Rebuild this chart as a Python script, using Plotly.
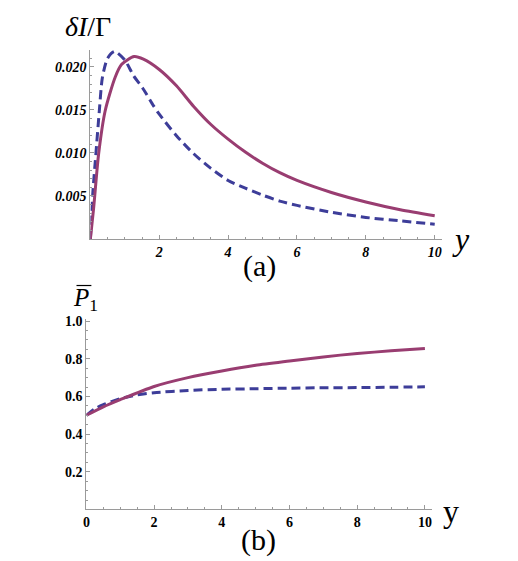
import plotly.graph_objects as go

# --- DATA ---
# (a) delta I / Gamma vs y
a_dash_y = [0, 0.07, 0.16, 0.26, 0.35, 0.5, 0.7, 1.0, 1.25, 1.54, 1.83, 2, 2.5, 3, 3.5,
            4, 4.5, 5, 5.5, 6, 7, 8, 9, 10]
a_dash_v = [0, 0.0053, 0.0099, 0.0149, 0.0188, 0.0210, 0.0218, 0.0208, 0.0190, 0.0174,
            0.0155, 0.0145, 0.0120, 0.0099, 0.0082, 0.0068, 0.0059, 0.0051, 0.0044,
            0.0039, 0.0031, 0.0025, 0.0021, 0.0017]
a_solid_y = [0, 0.09, 0.24, 0.43, 0.72, 0.91, 1.27, 1.54, 2, 2.5, 3, 3.5, 4, 4.5, 5, 5.5,
             6, 7, 8, 9, 10]
a_solid_v = [0, 0.0034, 0.0099, 0.0149, 0.0188, 0.0203, 0.0212, 0.0209, 0.0197, 0.0178,
             0.0154, 0.0133, 0.0116, 0.0101, 0.0088, 0.0077, 0.0068, 0.0054, 0.0043,
             0.0034, 0.0027]

# (b) P1 bar vs y
b_dash_y = [0, 0.25, 0.5, 1, 1.5, 2, 3, 4, 5, 6, 7, 8, 9, 10]
b_dash_v = [0.5, 0.535, 0.556, 0.588, 0.608, 0.62, 0.632, 0.638, 0.641, 0.644, 0.646,
            0.647, 0.649, 0.651]
b_solid_y = [0, 0.5, 1, 2, 3, 4, 5, 6, 7, 8, 9, 10]
b_solid_v = [0.5, 0.545, 0.583, 0.653, 0.70, 0.735, 0.765, 0.788, 0.810, 0.828, 0.842, 0.854]

a_xticks = [2, 4, 6, 8, 10]
a_yticks = [0.005, 0.010, 0.015, 0.020]
a_ylabels = ["0.005", "0.010", "0.015", "0.020"]
b_xticks = [0, 2, 4, 6, 8, 10]
b_yticks = [0.2, 0.4, 0.6, 0.8, 1.0]
b_ylabels = ["0.2", "0.4", "0.6", "0.8", "1.0"]

BLUE = "#3D3D99"
PURPLE = "#993D71"
AXIS = "#9a9a9a"
SERIF = "Liberation Serif"
# page body has an 8px margin, so the figure is 8px smaller than the window
OFF = 8
W, H = 518 - OFF, 561 - OFF


def px(x):
    return (x - OFF) / W


def py(y):
    return 1 - (y - OFF) / H


fig = go.Figure()

for xs, vs, color, dash, ax in [
    (a_dash_y, a_dash_v, BLUE, "9px,5px", ("x", "y")),
    (a_solid_y, a_solid_v, PURPLE, "solid", ("x", "y")),
    (b_dash_y, b_dash_v, BLUE, "9px,5px", ("x2", "y2")),
    (b_solid_y, b_solid_v, PURPLE, "solid", ("x2", "y2")),
]:
    fig.add_trace(
        go.Scatter(
            x=xs, y=vs, mode="lines", xaxis=ax[0], yaxis=ax[1],
            line=dict(color=color, width=3, dash=dash, shape="spline", smoothing=0.7),
            hoverinfo="skip", showlegend=False,
        )
    )

common = dict(
    showgrid=False, zeroline=False, showline=True, linecolor=AXIS, linewidth=1,
    ticks="inside", ticklen=4, tickcolor=AXIS, tickwidth=1,
)
tick_a = dict(family=SERIF, size=14, color="black", weight="bold", style="italic")
tick_b = dict(family=SERIF, size=14, color="black", weight="bold")

fig.update_layout(
    width=W, height=H,
    margin=dict(l=0, r=0, t=0, b=0),
    paper_bgcolor="white", plot_bgcolor="white",
    font=dict(family=SERIF),
    xaxis=dict(domain=[px(87), px(441)], range=[0, 10.2], anchor="y",
               tickvals=a_xticks, tickfont=tick_a,
               minor=dict(dtick=0.5, ticklen=2, tickcolor=AXIS, ticks="inside"), **common),
    yaxis=dict(domain=[py(236), py(45)], range=[0, 0.0220], anchor="x",
               tickvals=a_yticks, ticktext=a_ylabels, tickfont=tick_a,
               minor=dict(dtick=0.001, ticklen=2, tickcolor=AXIS, ticks="inside"), **common),
    xaxis2=dict(domain=[px(83), px(431)], range=[0, 10.2], anchor="y2",
                tickvals=b_xticks, tickfont=tick_b,
                minor=dict(dtick=0.5, ticklen=2, tickcolor=AXIS, ticks="inside"), **common),
    yaxis2=dict(domain=[py(509), py(317)], range=[0, 1.01], anchor="x2",
                tickvals=b_yticks, ticktext=b_ylabels, tickfont=tick_b,
                minor=dict(dtick=0.05, ticklen=2, tickcolor=AXIS, ticks="inside"), **common),
)

labels = [
    ("<i>δI</i>/Γ", 85, 22, 28),
    ("<i>y</i>", 461, 236, 32),
    ("(a)", 257, 263, 30),
    ("<i>P</i><sub>1</sub>", 82, 297, 25),
    ("y", 450, 511, 32),
    ("(b)", 256, 540, 30),
]
for text, x, y, size in labels:
    fig.add_annotation(
        text=text, x=px(x), y=py(y), xref="paper", yref="paper",
        xanchor="center", yanchor="middle", showarrow=False,
        font=dict(family=SERIF, size=size, color="black"),
    )

# overline of P-bar
fig.add_shape(type="line", xref="paper", yref="paper",
              x0=px(73), x1=px(88), y0=py(283), y1=py(283),
              line=dict(color="black", width=1.2))

fig.write_html("out.html")
